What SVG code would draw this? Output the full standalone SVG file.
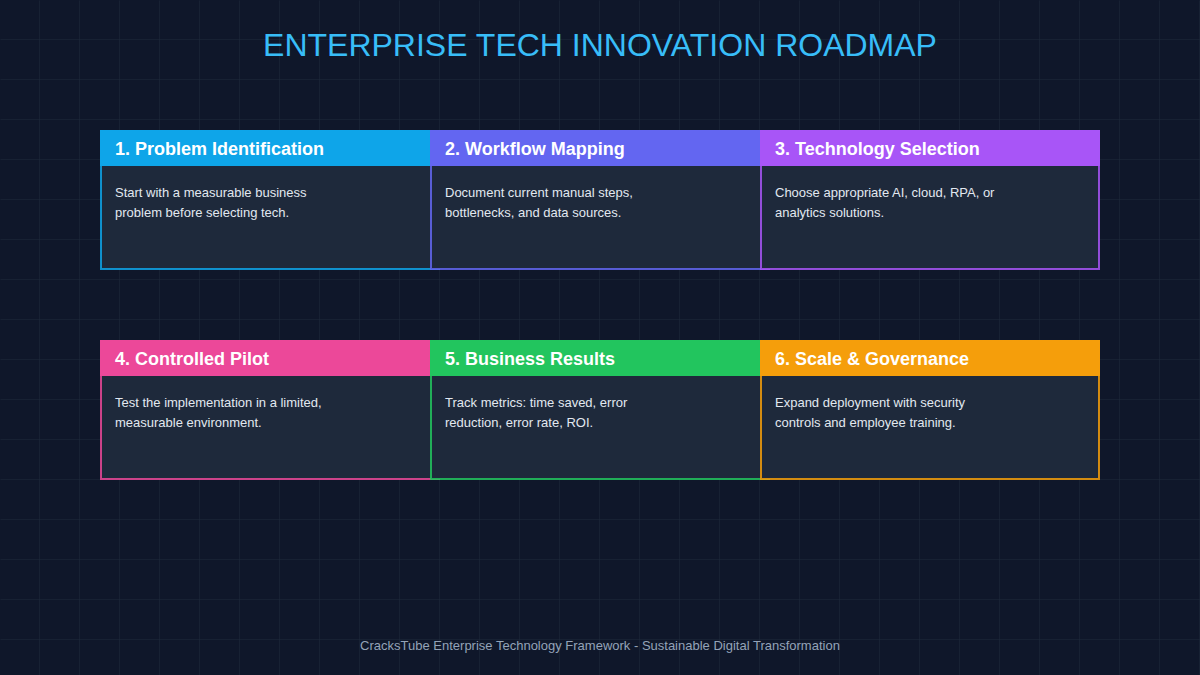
<svg xmlns="http://www.w3.org/2000/svg" width="1200" height="675" viewBox="0 0 1200 675">
<defs>
<pattern id="grid" width="40" height="40" patternUnits="userSpaceOnUse">
<path d="M40 0 V40 M0 40 H40" fill="none" stroke="#1e293b" stroke-width="1"/>
</pattern>
<style>
.body{fill:#1e293b;stroke-width:2;stroke-opacity:0.85}
.head{font-family:"Liberation Sans",Arial,sans-serif;font-weight:bold;font-size:18px;fill:#ffffff}
.desc{font-family:"Liberation Sans",Arial,sans-serif;font-size:13px;fill:#e2e8f0}
.title{font-family:"Liberation Sans",Arial,sans-serif;font-size:32px;fill:#38bdf8;text-anchor:middle}
.foot{font-family:"Liberation Sans",Arial,sans-serif;font-size:13px;fill:#94a3b8;text-anchor:middle}
</style>
</defs>
<rect width="1200" height="675" fill="#0f172a"/>
<rect x="0.5" y="0.5" width="1200" height="675" fill="url(#grid)"/>
<text class="title" x="600" y="56">ENTERPRISE TECH INNOVATION ROADMAP</text>
<g id="connectors"></g>
<g id="node1">
<rect class="body" x="101" y="131" width="338" height="138" stroke="#0ea5e9"/>
<rect x="100" y="130" width="340" height="36" fill="#0ea5e9"/>
<text class="head" x="115" y="155">1. Problem Identification</text>
<text class="desc" x="115" y="197">Start with a measurable business</text>
<text class="desc" x="115" y="217">problem before selecting tech.</text>
</g>
<g id="node2">
<rect class="body" x="431" y="131" width="338" height="138" stroke="#6366f1"/>
<rect x="430" y="130" width="340" height="36" fill="#6366f1"/>
<text class="head" x="445" y="155">2. Workflow Mapping</text>
<text class="desc" x="445" y="197">Document current manual steps,</text>
<text class="desc" x="445" y="217">bottlenecks, and data sources.</text>
</g>
<g id="node3">
<rect class="body" x="761" y="131" width="338" height="138" stroke="#a855f7"/>
<rect x="760" y="130" width="340" height="36" fill="#a855f7"/>
<text class="head" x="775" y="155">3. Technology Selection</text>
<text class="desc" x="775" y="197">Choose appropriate AI, cloud, RPA, or</text>
<text class="desc" x="775" y="217">analytics solutions.</text>
</g>
<g id="node4">
<rect class="body" x="101" y="341" width="338" height="138" stroke="#ec4899"/>
<rect x="100" y="340" width="340" height="36" fill="#ec4899"/>
<text class="head" x="115" y="365">4. Controlled Pilot</text>
<text class="desc" x="115" y="407">Test the implementation in a limited,</text>
<text class="desc" x="115" y="427">measurable environment.</text>
</g>
<g id="node5">
<rect class="body" x="431" y="341" width="338" height="138" stroke="#22c55e"/>
<rect x="430" y="340" width="340" height="36" fill="#22c55e"/>
<text class="head" x="445" y="365">5. Business Results</text>
<text class="desc" x="445" y="407">Track metrics: time saved, error</text>
<text class="desc" x="445" y="427">reduction, error rate, ROI.</text>
</g>
<g id="node6">
<rect class="body" x="761" y="341" width="338" height="138" stroke="#f59e0b"/>
<rect x="760" y="340" width="340" height="36" fill="#f59e0b"/>
<text class="head" x="775" y="365">6. Scale &amp; Governance</text>
<text class="desc" x="775" y="407">Expand deployment with security</text>
<text class="desc" x="775" y="427">controls and employee training.</text>
</g>
<text class="foot" x="600" y="650">CracksTube Enterprise Technology Framework - Sustainable Digital Transformation</text>
</svg>
